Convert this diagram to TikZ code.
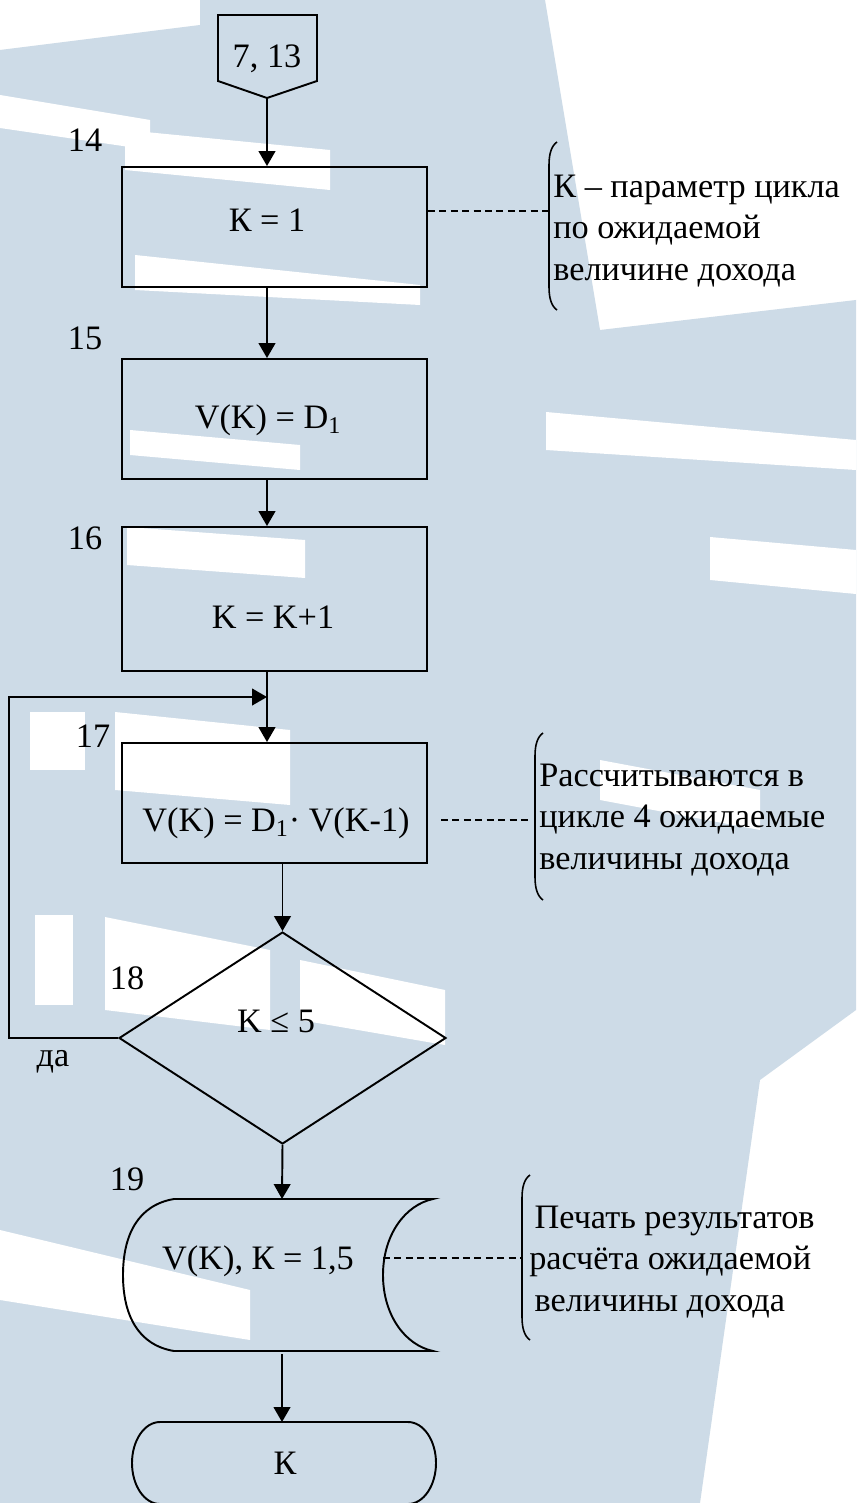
\documentclass[tikz,border=0pt]{standalone}
\usepackage{fontspec}
\setmainfont{Liberation Serif}
\usetikzlibrary{shapes.geometric, arrows.meta, positioning}
\definecolor{wmblue}{RGB}{205,219,231}
\tikzstyle{block} = [rectangle, draw, line width=1.1pt, minimum width=6.1cm, minimum height=2.4cm, inner sep=0pt]
\tikzstyle{decision} = [diamond, draw, line width=1.1pt, minimum width=6.54cm, minimum height=4.24cm, inner sep=0pt]
\tikzstyle{txt} = [inner sep=0pt]
\tikzstyle{comment} = [align=left, anchor=west, inner sep=0pt]
\tikzstyle{flow} = [-{Triangle[length=8.5pt,width=9.5pt]}, line width=1.1pt]
\tikzstyle{note} = [dash pattern=on 4pt off 2.5pt, line width=0.7pt]
\tikzstyle{brk} = [line width=0.9pt]
\tikzstyle{wm} = [fill=white, draw=none]

\begin{document}
\begin{tikzpicture}[x=0.02cm, y=-0.02cm, font=\fontsize{19.5}{23.5}\selectfont]
  \useasboundingbox (0,0) rectangle (856,1503);

  % фон
  \fill[white] (0,0) rectangle (856,1503);
  \fill[wmblue] (0,50) -- (200,25) -- (200,0) -- (545,0) -- (600,330) -- (856,300)
    -- (856,1010) -- (760,1080) -- (700,1503) -- (0,1503) -- cycle;
  \fill[wm] (0,95) -- (150,120) -- (150,150) -- (0,128) -- cycle;
  \fill[wm] (125,130) -- (330,150) -- (330,190) -- (125,170) -- cycle;
  \fill[wm] (135,255) -- (420,285) -- (420,305) -- (135,290) -- cycle;
  \fill[wm] (130,430) -- (300,445) -- (300,470) -- (130,455) -- cycle;
  \fill[wm] (127,527) -- (305,540) -- (305,578) -- (127,565) -- cycle;
  \fill[wm] (30,712) -- (85,712) -- (85,770) -- (30,770) -- cycle;
  \fill[wm] (115,712) -- (290,730) -- (290,805) -- (115,790) -- cycle;
  \fill[wm] (35,915) -- (73,915) -- (73,1005) -- (35,1005) -- cycle;
  \fill[wm] (105,917) -- (270,950) -- (270,1030) -- (105,1010) -- cycle;
  \fill[wm] (300,960) -- (445,990) -- (445,1045) -- (300,1020) -- cycle;
  \fill[wm] (0,1230) -- (250,1290) -- (250,1340) -- (0,1300) -- cycle;
  \fill[wm] (546,412) -- (856,440) -- (856,470) -- (546,450) -- cycle;
  \fill[wm] (710,537) -- (856,550) -- (856,594) -- (710,580) -- cycle;
  \fill[wm] (600,760) -- (760,790) -- (760,830) -- (600,800) -- cycle;

  % соединитель
  \draw[line width=1.1pt] (218,15) -- (317,15) -- (317,81) -- (267,98) -- (218,81) -- cycle;
  \node[txt] (n713) at (267,59) {7, 13};
  \coordinate (c713) at (267,98);

  % блоки
  \node[block] (b14) at (274.5,227) {};
  \node[txt] (t14) at (267,220) {К = 1};
  \node[block] (b15) at (274.5,419) {};
  \node[txt] (t15) at (268,420) {V(K) = D\textsubscript{1}};
  \node[block, minimum height=2.88cm] (b16) at (274.5,599) {};
  \node[txt] (t16) at (273,617) {K = K+1};
  \node[block] (b17) at (274.5,803) {};
  \node[txt] (t17) at (276,823) {V(K) = D\textsubscript{1}· V(K-1)};
  \node[decision] (dec) at (282.5,1038) {};
  \node[txt] (t18) at (276,1021) {K ≤ 5};

  % вывод
  \draw[line width=1.1pt] (174,1199) -- (433,1199)
    .. controls (405,1205) and (383,1235) .. (383,1275)
    .. controls (383,1315) and (405,1345) .. (433,1351) -- (174,1351)
    .. controls (138,1345) and (123,1315) .. (123,1275)
    .. controls (123,1235) and (138,1205) .. (174,1199) -- cycle;
  \node[txt] (t19) at (258,1261) {V(K), К = 1,5};
  \coordinate (d19top) at (282,1199);
  \coordinate (d19bot) at (282,1354);
  \coordinate (d19right) at (383,1258);

  % конец
  \draw[line width=1.1pt] (160,1422) -- (408,1422) arc[start angle=90, end angle=-90, x radius=28, y radius=-41]
    -- (160,1504) arc[start angle=270, end angle=90, x radius=28, y radius=-41];
  \node[txt] (t20) at (285,1463) {К};
  \coordinate (endtop) at (282,1422);

  % номера
  \node[txt] (s14) at (85,140) {14};
  \node[txt] (s15) at (85,338) {15};
  \node[txt] (s16) at (85,538) {16};
  \node[txt] (s17) at (93,736) {17};
  \node[txt] (s18) at (127,978) {18};
  \node[txt] (s19) at (127,1179) {19};
  \node[txt] (yes) at (53,1062) {да};

  % связи
  \coordinate (join) at (267,697);
  \draw[flow] (c713) -- (b14.north -| c713);
  \draw[flow] (b14.south -| c713) -- (b15.north -| c713);
  \draw[flow] (b15.south -| c713) -- (b16.north -| c713);
  \draw[flow] (b16.south -| c713) -- (b17.north -| c713);
  \draw[flow] (b17.south -| dec) -- (dec.north);
  \draw[flow] (dec.south) -- (d19top);
  \draw[flow] (d19bot) -- (endtop);
  \draw[flow] (dec.west) -- ++(-109,0) |- (join);

  % комментарии
  \coordinate (br1) at (549,211);
  \coordinate (br2) at (528,820);
  \coordinate (br3) at (522,1258);
  \draw[note] (b14.east |- br1) -- (br1);
  \draw[note] (441,820) -- (br2);
  \draw[note] (d19right) -- (br3);
  \draw[brk] (557,142) .. controls (551,146) and (549,155) .. (549,165) -- (549,287)
    .. controls (549,297) and (551,306) .. (557,310);
  \draw[brk] (543,733) .. controls (537,737) and (535,746) .. (535,756) -- (535,877)
    .. controls (535,887) and (537,896) .. (543,900);
  \draw[brk] (530,1175) .. controls (524,1179) and (522,1188) .. (522,1198) -- (522,1317)
    .. controls (522,1327) and (524,1336) .. (530,1340);
  \node[comment] (k14) at (553,231) {К – параметр цикла\\по ожидаемой\\величине дохода};
  \node[comment] (k17) at (539,820) {Рассчитываются в\\цикле 4 ожидаемые\\величины дохода};
  \node[comment] (k19) at (529,1262) {\hspace{3pt}Печать результатов\\расчёта ожидаемой\\\hspace{3pt}величины дохода};
\end{tikzpicture}
\end{document}
